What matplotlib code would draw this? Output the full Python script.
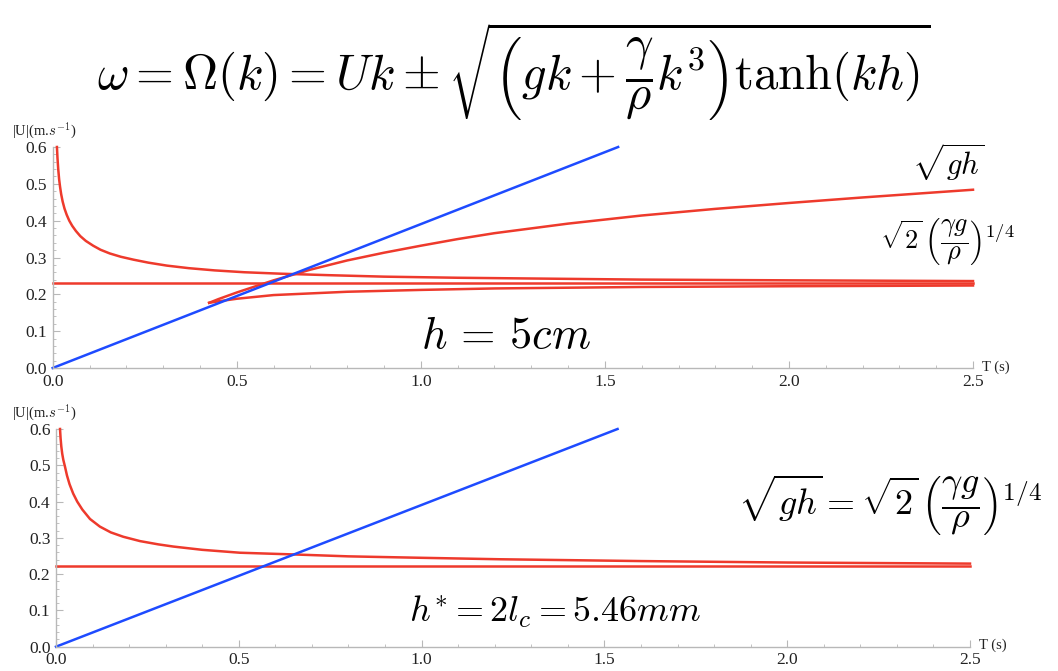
import matplotlib.pyplot as plt
from matplotlib.ticker import MultipleLocator
import numpy as np

plt.rcParams['mathtext.fontset'] = 'cm'
plt.rcParams['font.family'] = 'Liberation Serif'

# period T (s) vs |U| (m/s)
blue_t = [0.0, 1.536]
blue_u = [0.0, 0.6]

# h = 5 cm panel
top_cap_t = [0.0115, 0.013, 0.015, 0.0175, 0.02, 0.023, 0.027, 0.032, 0.038, 0.045, 0.053,
             0.063, 0.075, 0.09, 0.11, 0.13, 0.155, 0.185, 0.22, 0.26, 0.31, 0.37, 0.44,
             0.52, 0.62, 0.75, 0.9, 1.1, 1.3, 1.6, 2.0, 2.5]
top_cap_u = [0.600, 0.570, 0.540, 0.512, 0.492, 0.472, 0.452, 0.433, 0.416, 0.400, 0.386,
             0.372, 0.358, 0.345, 0.332, 0.321, 0.311, 0.302, 0.294, 0.286, 0.278, 0.271, 0.265,
             0.260, 0.256, 0.252, 0.248, 0.245, 0.243, 0.240, 0.238, 0.236]
top_const_t = [0.0, 2.5]
top_const_u = [0.231, 0.231]
top_low_t = [0.425, 0.45, 0.5, 0.6, 0.8, 1.0, 1.2, 1.6, 2.0, 2.5]
top_low_u = [0.177, 0.181, 0.188, 0.198, 0.207, 0.212, 0.216, 0.220, 0.222, 0.224]
top_grav_t = [0.425, 0.45, 0.5, 0.6, 0.7, 0.8, 0.9, 1.0, 1.1, 1.2, 1.4, 1.6, 1.8, 2.0, 2.2,
              2.4, 2.5]
top_grav_u = [0.177, 0.187, 0.205, 0.238, 0.267, 0.292, 0.313, 0.332, 0.350, 0.366, 0.392,
              0.414, 0.432, 0.448, 0.463, 0.477, 0.484]

# h* = 5.46 mm panel
bot_cap_t = [0.011, 0.0125, 0.0145, 0.017, 0.02, 0.0246, 0.03, 0.037, 0.047, 0.058, 0.072,
             0.093, 0.12, 0.15, 0.184, 0.23, 0.28, 0.321, 0.4, 0.503, 0.64, 0.8, 1.0, 1.214,
             1.6, 2.0, 2.5]
bot_cap_u = [0.600, 0.575, 0.552, 0.532, 0.515, 0.496, 0.472, 0.448, 0.422, 0.400, 0.378,
             0.352, 0.331, 0.315, 0.303, 0.291, 0.282, 0.276, 0.267, 0.259, 0.2546, 0.249,
             0.245, 0.241, 0.236, 0.232, 0.229]
bot_const_t = [0.0, 2.5]
bot_const_u = [0.223, 0.223]

red = '#ee3a2c'
blue = '#1e4bff'
grey = '#b8b8b8'
W, H = 1058, 671


def fx(x):
    return x / W


def fy(y):
    return 1 - y / H


def style(ax):
    ax.set_xlim(0, 2.5)
    ax.set_ylim(0, 0.6)
    for s in ['top', 'right']:
        ax.spines[s].set_visible(False)
    for s in ['left', 'bottom']:
        ax.spines[s].set_color(grey)
        ax.spines[s].set_linewidth(1.0)
    ax.xaxis.set_major_locator(MultipleLocator(0.5))
    ax.xaxis.set_minor_locator(MultipleLocator(0.1))
    ax.yaxis.set_major_locator(MultipleLocator(0.1))
    ax.yaxis.set_minor_locator(MultipleLocator(0.02))
    ax.xaxis.set_major_formatter(lambda v, p: '%.1f' % v)
    ax.yaxis.set_major_formatter(lambda v, p: '%.1f' % v)
    ax.tick_params(which='major', direction='in', length=5, color=grey,
                   labelsize=12.5, labelcolor='#222222', pad=4)
    ax.tick_params(which='minor', direction='in', length=2.5, color=grey)
    ax.patch.set_alpha(0)


fig = plt.figure(figsize=(W / 100, H / 100), dpi=100)
ax1 = fig.add_axes([52.7 / W, 1 - 368 / H, 920.3 / W, 221 / H])
ax2 = fig.add_axes([56 / W, 1 - 646.7 / H, 914 / W, 217.7 / H])

lw = 1.8
ax1.plot(top_const_t, top_const_u, color=red, lw=lw, clip_on=False)
ax1.plot(top_cap_t, top_cap_u, color=red, lw=lw, clip_on=False)
ax1.plot(top_low_t, top_low_u, color=red, lw=lw, clip_on=False)
ax1.plot(top_grav_t, top_grav_u, color=red, lw=lw, clip_on=False)
ax1.plot(blue_t, blue_u, color=blue, lw=lw, clip_on=False)

ax2.plot(bot_const_t, bot_const_u, color=red, lw=lw, clip_on=False)
ax2.plot(bot_cap_t, bot_cap_u, color=red, lw=lw, clip_on=False)
ax2.plot(blue_t, blue_u, color=blue, lw=lw, clip_on=False)

for ax, left in [(ax1, 52.7), (ax2, 56)]:
    style(ax)
    ax.annotate('T (s)', xy=(1, 0), xycoords='axes fraction', xytext=(9, 1),
                textcoords='offset pixels', ha='left', va='center', fontsize=10.5,
                color='#222222')
    ax.annotate(r'|U|(m.$s^{-1}$)', xy=(0, 1), xycoords='axes fraction',
                xytext=(12 - left, 6), textcoords='offset pixels', ha='left', va='bottom',
                fontsize=10.5, color='#222222')

# big dispersion relation on top
fig.text(fx(514), fy(72),
         r'$\omega = \Omega(k) = Uk \pm \sqrt{\left(gk + \dfrac{\gamma}{\rho}k^3\right)\tanh(kh)}$',
         ha='center', va='center', fontsize=35)

fig.text(fx(506), fy(337), r'$h\,=\,5cm$', ha='center', va='center', fontsize=32)
fig.text(fx(948), fy(162), r'$\sqrt{gh}$', ha='center', va='center', fontsize=22)
fig.text(fx(947), fy(242), r'$\sqrt{2}\,\left(\dfrac{\gamma g}{\rho}\right)^{1/4}$',
         ha='center', va='center', fontsize=19)

fig.text(fx(890), fy(505),
         r'$\sqrt{gh} = \sqrt{2}\,\left(\dfrac{\gamma g}{\rho}\right)^{1/4}$',
         ha='center', va='center', fontsize=26)
fig.text(fx(555), fy(612), r'$h^{*} = 2l_c = 5.46mm$', ha='center', va='center', fontsize=26)

fig.savefig('out.png', dpi=100)
